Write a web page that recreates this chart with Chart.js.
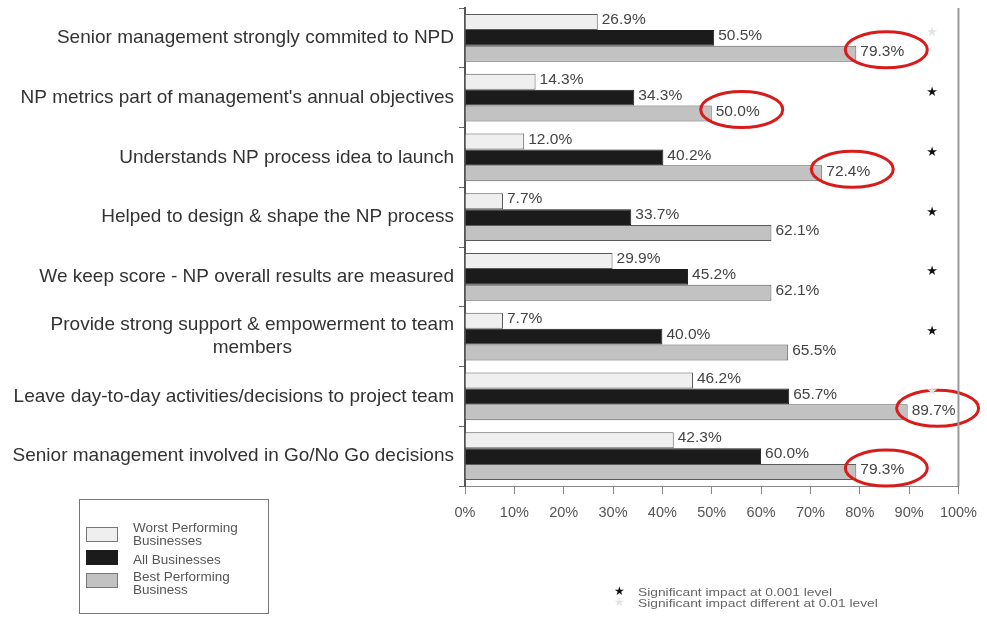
<!DOCTYPE html>
<html>
<head>
<meta charset="utf-8">
<script src="https://cdn.jsdelivr.net/npm/chart.js@4"></script>
<style>
  html, body { margin: 0; padding: 0; background: #fff; }
  #wrap { position: relative; width: 987px; height: 617px; }
  #legend { position: absolute; left: 79px; top: 499px; width: 188px; height: 113px;
            border: 1px solid #777; font-family: "Liberation Sans", Arial, sans-serif;
            font-size: 13.5px; color: #555; line-height: 12.5px; }
  .sw { position: absolute; left: 6px; width: 32px; height: 15px; border: 1px solid #777; box-sizing: border-box; }
  .lt { position: absolute; left: 53px; }
  #notes { position: absolute; left: 614px; top: 587px; font-family: "Liberation Sans", Arial, sans-serif;
           font-size: 11.5px; color: #666; line-height: 11px; }
  #notes div { transform: scaleX(1.2); transform-origin: left center; }
  #notes span.star { position: absolute; left: 0; font-family: "DejaVu Sans"; font-size: 12px; }
</style>
</head>
<body>
<div id="wrap">
  <canvas id="chart"></canvas>
  <div id="legend">
    <div class="sw" id="sw0" style="top:27px"></div>
    <div class="lt" style="top:22px">Worst Performing<br>Businesses</div>
    <div class="sw" id="sw1" style="top:50px"></div>
    <div class="lt" style="top:54px">All Businesses</div>
    <div class="sw" id="sw2" style="top:73px"></div>
    <div class="lt" style="top:71px">Best Performing<br>Business</div>
  </div>
  <div id="notes">
    <span class="star" style="top:-1px;color:#111">★</span>
    <div style="margin-left:24px">Significant impact at 0.001 level</div>
    <span class="star" style="top:10px;color:#e4e4e4">★</span>
    <div style="margin-left:24px">Significant impact different at 0.01 level</div>
  </div>
</div>
<script>
const categories = [
  'Senior management strongly commited to NPD',
  "NP metrics part of management's annual objectives",
  'Understands NP process idea to launch',
  'Helped to design & shape the NP process',
  'We keep score - NP overall results are measured',
  ['Provide strong support & empowerment to team', 'members'],
  'Leave day-to-day activities/decisions to project team',
  'Senior management involved in Go/No Go decisions'
];
const worstValues = [26.9, 14.3, 12.0, 7.7, 29.9, 7.7, 46.2, 42.3];
const allValues = [50.5, 34.3, 40.2, 33.7, 45.2, 40.0, 65.7, 60.0];
const bestValues = [79.3, 50.0, 72.4, 62.1, 62.1, 65.5, 89.7, 79.3];
// significance marker per row: '0.001' = dark star, '0.01' = pale star
const significance = ['0.01', '0.001', '0.001', '0.001', '0.001', '0.001', '0.01', null];
// rows whose best-performer value gets a red ring
const circled = [true, true, true, false, false, false, true, true];
const xTicks = [0, 10, 20, 30, 40, 50, 60, 70, 80, 90, 100];

const colors = {
  worst: '#efefef',
  all: '#1b1b1b',
  best: '#c2c2c2',
  edge: '#5a5a5a'
};

document.getElementById('sw0').style.background = colors.worst;
document.getElementById('sw1').style.background = colors.all;
document.getElementById('sw1').style.borderColor = colors.all;
document.getElementById('sw2').style.background = colors.best;

const FONT = '"Liberation Sans", Arial, sans-serif';

// value labels, category labels, stars, red rings, right frame line
const decorations = {
  id: 'decorations',
  afterDatasetsDraw(chart) {
    const ctx = chart.ctx;
    const area = chart.chartArea;
    const yScale = chart.scales.y;
    ctx.save();

    // value labels at the end of each bar
    ctx.font = '15.5px ' + FONT;
    ctx.fillStyle = '#444';
    ctx.textAlign = 'left';
    ctx.textBaseline = 'middle';
    chart.data.datasets.forEach((ds, di) => {
      chart.getDatasetMeta(di).data.forEach((bar, i) => {
        ctx.fillText(ds.data[i].toFixed(1) + '%', bar.x + 4, bar.y - 2);
      });
    });

    // red rings around best-performer values
    const bestMeta = chart.getDatasetMeta(2);
    ctx.strokeStyle = '#d81c1c';
    ctx.lineWidth = 3;
    bestMeta.data.forEach((bar, i) => {
      if (!circled[i]) return;
      ctx.beginPath();
      ctx.ellipse(bar.x + 30, bar.y - 4, 41, 18, 0, 0, Math.PI * 2);
      ctx.stroke();
    });

    // category labels, right aligned block, lines centred within it
    ctx.font = '19px ' + FONT;
    ctx.fillStyle = '#333';
    ctx.textAlign = 'center';
    categories.forEach((label, i) => {
      const lines = Array.isArray(label) ? label : [label];
      const w = Math.max(...lines.map(l => ctx.measureText(l).width));
      const cx = area.left - 11 - w / 2;
      const cy = yScale.getPixelForValue(i);
      const lh = 23;
      lines.forEach((l, k) => {
        ctx.fillText(l, cx, cy + (k - (lines.length - 1) / 2) * lh);
      });
    });

    // significance stars
    ctx.font = '13px "DejaVu Sans"';
    significance.forEach((s, i) => {
      if (!s) return;
      ctx.fillStyle = s === '0.001' ? '#111' : '#e2e2e2';
      ctx.fillText('★', 932, yScale.getPixelForValue(i) - 5);
    });

    // right frame line
    ctx.strokeStyle = '#9a9a9a';
    ctx.lineWidth = 2;
    ctx.beginPath();
    ctx.moveTo(area.right, area.top);
    ctx.lineTo(area.right, area.bottom);
    ctx.stroke();
    ctx.restore();
  }
};

const barStyle = { borderWidth: 1, barPercentage: 1, categoryPercentage: 0.8 };

new Chart(document.getElementById('chart'), {
  type: 'bar',
  data: {
    labels: categories,
    datasets: [
      Object.assign({ label: 'Worst Performing Businesses', data: worstValues,
        backgroundColor: colors.worst, borderColor: colors.edge }, barStyle),
      Object.assign({ label: 'All Businesses', data: allValues,
        backgroundColor: colors.all, borderColor: colors.all }, barStyle),
      Object.assign({ label: 'Best Performing Business', data: bestValues,
        backgroundColor: colors.best, borderColor: colors.edge }, barStyle)
    ]
  },
  options: {
    indexAxis: 'y',
    responsive: true,
    maintainAspectRatio: false,
    animation: false,
    layout: { padding: { top: 8, right: 27, bottom: 91, left: 0 } },
    plugins: {
      legend: { display: false },
      tooltip: { enabled: false }
    },
    scales: {
      x: {
        min: 0,
        max: 100,
        afterBuildTicks: axis => { axis.ticks = xTicks.map(v => ({ value: v })); },
        afterFit: axis => { axis.height = 40; },
        ticks: {
          callback: v => v + '%',
          color: '#555',
          font: { family: FONT, size: 14.5 },
          padding: 10,
          maxRotation: 0
        },
        grid: { drawOnChartArea: false, tickLength: 8, color: '#888' },
        border: { color: '#888', width: 1 }
      },
      y: {
        afterFit: axis => { axis.width = 465; },
        ticks: { display: false },
        grid: { drawOnChartArea: false, tickLength: 6, color: '#666' },
        border: { color: '#555', width: 2 }
      }
    }
  },
  plugins: [decorations]
});
</script>
</body>
</html>
